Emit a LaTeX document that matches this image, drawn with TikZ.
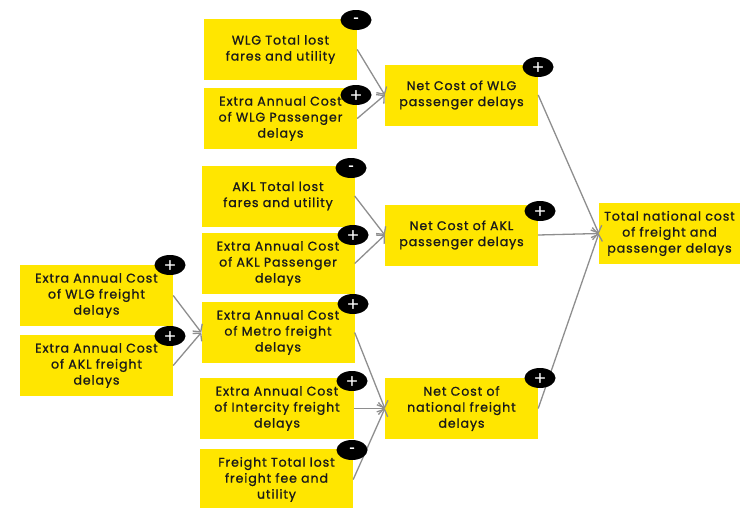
\documentclass[tikz,border=0pt]{standalone}
\usepackage{fontspec}
\setmainfont[LetterSpace=7,FakeBold=1.0]{Poppins}
\newfontfamily\badgefont[FakeBold=1.5]{DejaVu Sans}
\usetikzlibrary{arrows.meta,shapes.geometric}
\definecolor{eyyellow}{HTML}{FFE600}
\definecolor{linegray}{HTML}{8E8E8E}
\definecolor{txt}{HTML}{1A1A1A}
\begin{document}
\begin{tikzpicture}[x=1pt,y=-1pt,
  box/.style={fill=eyyellow,draw=none,minimum width=153pt,minimum height=61pt,
    text width=150pt,align=center,inner sep=0pt,font=\fontsize{12.6}{16}\selectfont,text=txt},
  badge/.style={ellipse,fill=black,minimum width=31pt,minimum height=20pt,inner sep=0pt,
    text=white,font=\fontsize{15}{15}\selectfont\badgefont},
  link/.style={draw=linegray,line width=1.3pt,-{Straight Barb[length=5.5pt,width=12pt,line width=1.3pt]}}]
\useasboundingbox (0,0) rectangle (740,507);
\node[box] (wlgLost) at (280.5,49.5) {WLG Total lost\\fares and utility};
\node[box] (wlgPass) at (280.5,118.5) {Extra Annual Cost\\of WLG Passenger\\delays};
\node[box] (netWlg) at (461.5,95) {Net Cost of WLG\\passenger delays};
\node[box] (aklLost) at (278,196) {AKL Total lost\\fares and utility};
\node[box] (aklPass) at (278,263.5) {Extra Annual Cost\\of AKL Passenger\\delays};
\node[box] (netAkl) at (461.5,235) {Net Cost of AKL\\passenger delays};
\node[box,minimum width=141pt,text width=141pt] (total) at (669.5,233.5) {Total national cost\\of freight and\\passenger delays};
\node[box] (wlgFr) at (96.5,295.5) {Extra Annual Cost\\of WLG freight\\delays};
\node[box] (aklFr) at (96.5,365.5) {Extra Annual Cost\\of AKL freight\\delays};
\node[box] (metro) at (278,332.5) {Extra Annual Cost\\of Metro freight\\delays};
\node[box,minimum width=154pt] (intercity) at (277,408.5) {Extra Annual Cost\\of Intercity freight\\delays};
\node[box] (frLost) at (276.5,479.5) {Freight Total lost\\freight fee and\\utility};
\node[box] (netFr) at (461.5,408.5) {Net Cost of\\national freight\\delays};

\draw[link] (wlgLost.east) -- (netWlg.west);
\draw[link] (wlgPass.east) -- (netWlg.west);
\draw[link] (aklLost.east) -- (netAkl.west);
\draw[link] (aklPass.east) -- (netAkl.west);
\draw[link] (wlgFr.east) -- (metro.west);
\draw[link] (aklFr.east) -- (metro.west);
\draw[link] (metro.east) -- (netFr.west);
\draw[link] (intercity.east) -- (netFr.west);
\draw[link] (frLost.east) -- (netFr.west);
\draw[link] (netWlg.east) -- (total.west);
\draw[link] (netAkl.east) -- (total.west);
\draw[link] (netFr.east) -- (total.west);

\node[badge] (bWlgLost) at (356,20) {-};
\node[badge] (bWlgPass) at (356,95) {+};
\node[badge] (bNetWlg) at (538,67) {+};
\node[badge] (bAklLost) at (351,168) {-};
\node[badge] (bAklPass) at (353,235) {+};
\node[badge] (bNetAkl) at (540,211) {+};
\node[badge] (bWlgFr) at (170,265) {+};
\node[badge] (bAklFr) at (170,336) {+};
\node[badge] (bMetro) at (353,304) {+};
\node[badge] (bInter) at (352,381) {+};
\node[badge] (bFrLost) at (352,450) {-};
\node[badge] (bNetFr) at (540,378) {+};
\end{tikzpicture}
\end{document}
